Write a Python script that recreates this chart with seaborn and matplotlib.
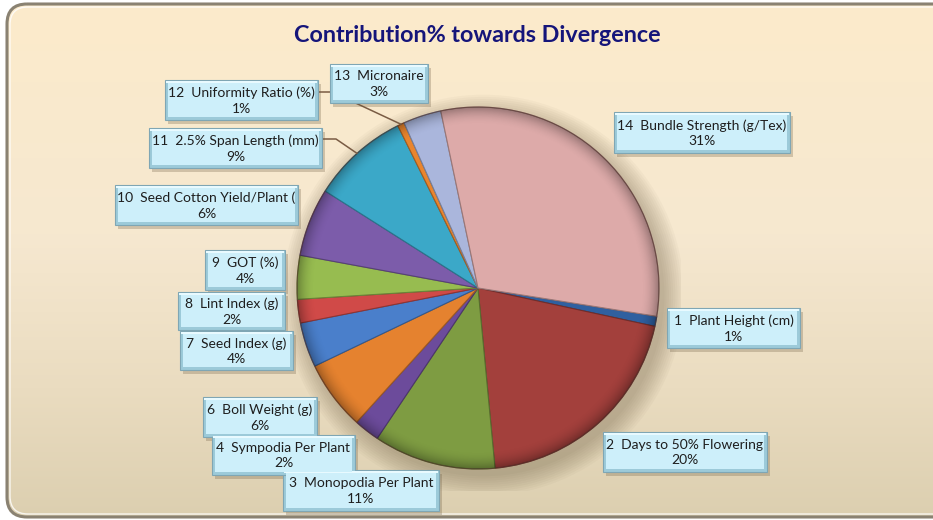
import numpy as np
import matplotlib
matplotlib.use("Agg")
import matplotlib.pyplot as plt
import matplotlib.colors as mcolors
from matplotlib.patches import FancyBboxPatch, Rectangle, Circle
import seaborn as sns

# ---------------- data ----------------
numbers = ["1", "2", "3", "4", "6", "7", "8", "9", "10", "11", "12", "13", "14"]
traits = ["Plant Height (cm)", "Days to 50% Flowering", "Monopodia Per Plant",
          "Sympodia Per Plant", "Boll Weight (g)", "Seed Index (g)", "Lint Index (g)",
          "GOT (%)", "Seed Cotton Yield/Plant (", "2.5% Span Length (mm)",
          "Uniformity Ratio (%)", "Micronaire", "Bundle Strength (g/Tex)"]
contribution = [0.9, 20.1, 10.9, 2.3, 6.2, 4.0, 2.1, 3.9, 6.1, 8.7, 0.6, 3.4, 30.8]
slice_colors = ["#2F60A0", "#A3403C", "#7E9C42", "#6C4B9B", "#E5822F", "#4A7FCB",
                "#D04A48", "#97BC50", "#7C5CAA", "#3BA8C8", "#E9852E", "#AAB6DC", "#DDAAA9"]

# label box layout (pixel boxes: x0, y0, x1, y1)
label_boxes = [(667, 308, 800, 348), (603, 432, 767, 472), (283, 470, 439, 511),
               (212, 435, 355, 475), (203, 397, 317, 437), (180, 331, 293, 370),
               (178, 292, 285, 330), (205, 250, 285, 290), (115, 185, 298, 225),
               (149, 128, 322, 168), (165, 80, 318, 120), (330, 64, 428, 103),
               (614, 112, 790, 153)]

W, H = 933, 520
CX, CY, R = 478, 288, 181

sns.set_theme(style="white")
plt.rcParams['font.family'] = ['Lato', 'DejaVu Sans']
palette = sns.color_palette(slice_colors)

fig = plt.figure(figsize=(W / 100, H / 100), dpi=100)
fig.patch.set_facecolor("white")

# ---------------- background frame ----------------
bg = fig.add_axes([0, 0, 1, 1], zorder=0)
bg.set_xlim(0, W)
bg.set_ylim(H, 0)
bg.axis("off")
frame = FancyBboxPatch((7, 4), 960, 513, boxstyle="round,pad=0,rounding_size=20",
                       facecolor="none", edgecolor="none")
bg.add_patch(frame)
bg_cmap = mcolors.LinearSegmentedColormap.from_list(
    "bgc", [(0, "#FCEBCB"), (0.45, "#F6E8D0"), (0.75, "#EADCC0"), (1, "#DCCFB0")])
grad = np.linspace(0, 1, 256)[:, None] * np.ones((1, 4))
im = bg.imshow(grad, extent=(7, 967, 517, 4), cmap=bg_cmap, aspect="auto", zorder=0)
im.set_clip_path(frame)
bg.add_patch(FancyBboxPatch((7, 4), 960, 513, boxstyle="round,pad=0,rounding_size=20",
                            facecolor="none", edgecolor="#8A8272", linewidth=2.2, zorder=2))
bg.add_patch(FancyBboxPatch((10, 7), 954, 507, boxstyle="round,pad=0,rounding_size=18",
                            facecolor="none", edgecolor="white", linewidth=1.0, alpha=0.8, zorder=2))
bg.text(477, 36, "Contribution% towards Divergence", ha="center", va="center",
        fontsize=16.8, fontweight="bold", color="#15157A")

# ---------------- pie ----------------
pad = 1.12
side = 2 * R * pad
ax = fig.add_axes([(CX - side / 2) / W, (H - CY - side / 2) / H, side / W, side / H], zorder=2)
ax.patch.set_alpha(0)
# soft shadow
for i in range(10):
    ax.add_patch(Circle((0.03, -0.04), 1.0 + 0.012 * i, facecolor="#5a4a30",
                        edgecolor="none", alpha=0.035, zorder=0))
edge_cols = [tuple(np.array(c) * 0.7) for c in palette]
wedges, _ = ax.pie(contribution, colors=palette, startangle=-9, counterclock=False,
                   radius=1.0, wedgeprops=dict(linewidth=0.8))
for w, ec in zip(wedges, edge_cols):
    w.set_edgecolor(ec)
    w.set_zorder(2)
# rim shading
n = 500
xs = np.linspace(-1, 1, n)
X, Y = np.meshgrid(xs, xs)
Rr = np.sqrt(X ** 2 + Y ** 2)
shade = np.zeros((n, n, 4))
a = np.clip((Rr - 0.9) / 0.1, 0, 1) ** 2 * 0.3
shade[..., 3] = a
sim = ax.imshow(shade, extent=(-1, 1, -1, 1), zorder=3, interpolation="bilinear")
clipc = Circle((0, 0), 1.0, transform=ax.transData, facecolor="none", edgecolor="none")
ax.add_patch(clipc)
sim.set_clip_path(clipc)
ax.add_patch(Circle((0, 0), 1.0, facecolor="none", edgecolor="#5a3a30", linewidth=0.8,
                    alpha=0.6, zorder=4))
ax.set_xlim(-pad, pad)
ax.set_ylim(-pad, pad)
ax.set_aspect("equal")
ax.axis("off")

# ---------------- labels ----------------
ov = fig.add_axes([0, 0, 1, 1], zorder=5)
ov.set_xlim(0, W)
ov.set_ylim(H, 0)
ov.axis("off")
ov.patch.set_alpha(0)


def pie_point(wedge, r=1.0):
    ang = np.deg2rad((wedge.theta1 + wedge.theta2) / 2)
    disp = ax.transData.transform((r * np.cos(ang), r * np.sin(ang)))
    return ov.transData.inverted().transform(disp)


# leader lines (12 and 11)
for idx in (10, 9):
    x0, y0, x1, y1 = label_boxes[idx]
    px, py = pie_point(wedges[idx])
    ym = (y0 + y1) / 2 - 8 if idx == 10 else (y0 + y1) / 2 - 9
    ov.plot([x1, x1 + 14, px], [ym, ym, py], color="#7A5C44", linewidth=1.1, zorder=1)

for num, trait, val, box in zip(numbers, traits, contribution, label_boxes):
    x0, y0, x1, y1 = box
    w, h = x1 - x0, y1 - y0
    ov.add_patch(Rectangle((x0 + 3, y0 + 4), w, h, facecolor="#6b5a40", alpha=0.28,
                           edgecolor="none", zorder=2))
    ov.add_patch(Rectangle((x0, y0), w, h, facecolor="#9CCAD9", edgecolor="#7FA6B4",
                           linewidth=0.8, zorder=3))
    ov.add_patch(Rectangle((x0 + 3, y0 + 3), w - 6, h - 6, facecolor="#CDEFFA",
                           edgecolor="none", zorder=4))
    ov.add_patch(Rectangle((x0 + 1, y0 + 1), w - 2, 2, facecolor="#E8FAFF",
                           edgecolor="none", zorder=4))
    ov.text((x0 + x1) / 2, (y0 + y1) / 2 + 0.5, f"{num}  {trait}\n{round(val)}%",
            ha="center", va="center", fontsize=10, color="#1E1E1E",
            linespacing=1.35, zorder=5)

fig.savefig("out.png", dpi=100)
